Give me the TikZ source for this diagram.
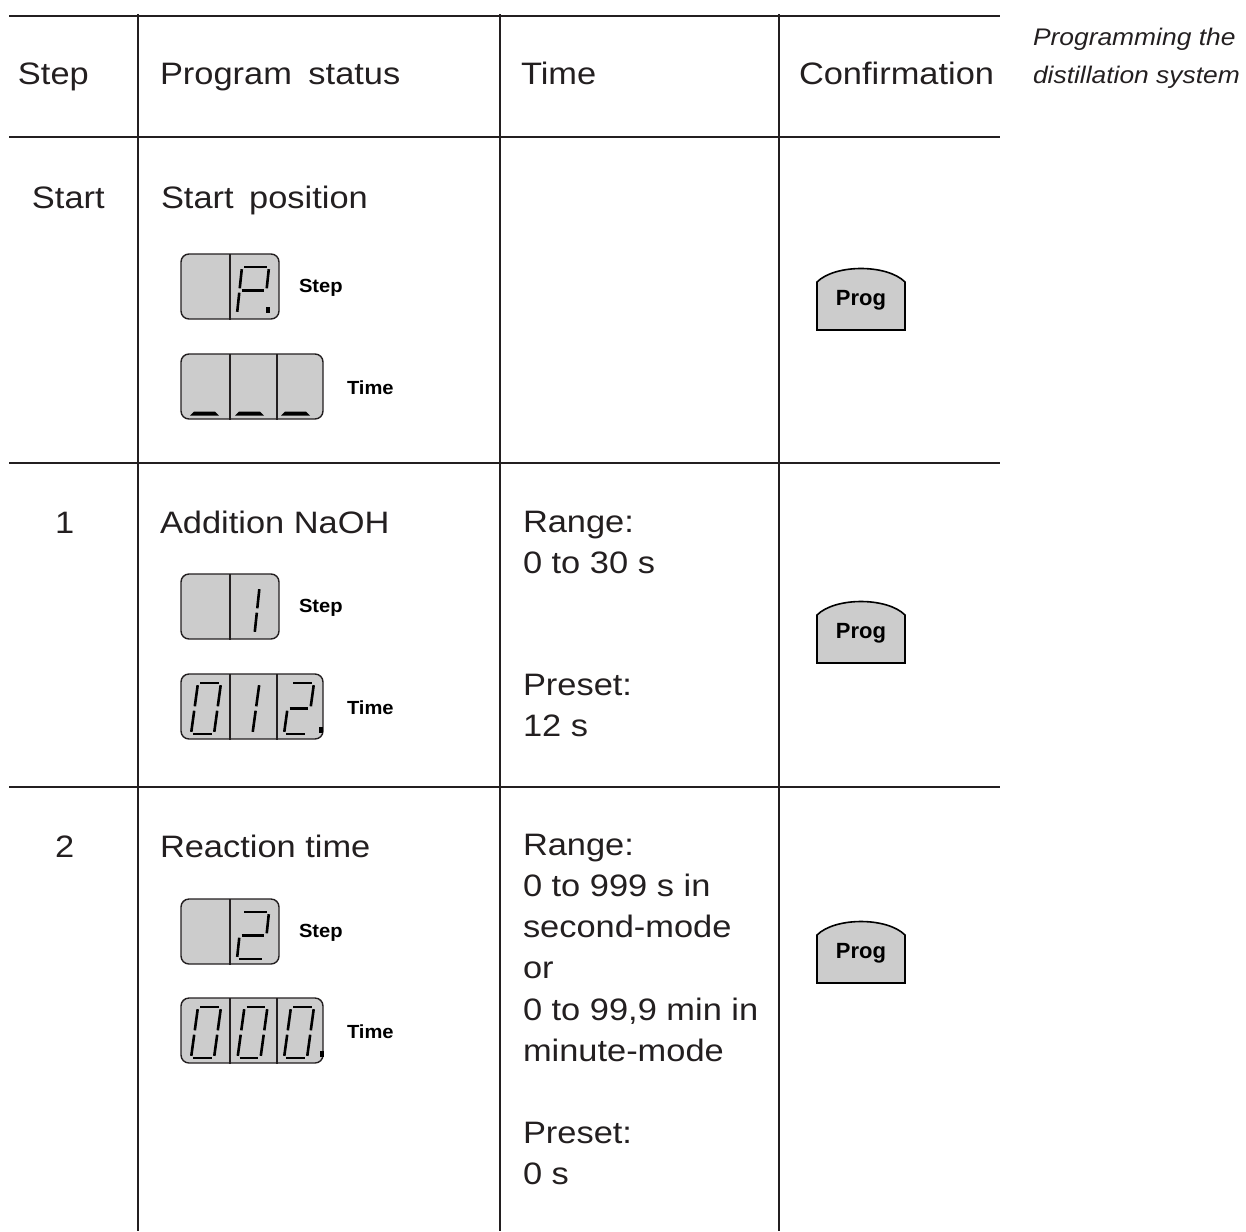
\documentclass[tikz,border=0pt]{standalone}
\usepackage{fontspec}
\setmainfont{Liberation Sans}
\newfontfamily\tabfont{Liberation Sans}[FakeStretch=1.11]
\newfontfamily\capfont{Liberation Sans}[FakeStretch=1.1]
\newfontfamily\lblfont{Liberation Sans}[FakeStretch=1.06]
\definecolor{ink}{HTML}{231F20}
\definecolor{panel}{HTML}{CCCCCC}
\newcommand\Digit[6]{%
  \begin{scope}[shift={(#1,#2)}]
    \coordinate (BL) at (0,0);
    \coordinate (BR) at (#3,0);
    \coordinate (ML) at ({#5/2},{-#4/2});
    \coordinate (MR) at ({#3+#5/2},{-#4/2});
    \coordinate (TL) at (#5,-#4);
    \coordinate (TR) at ({#3+#5},-#4);
    \coordinate (a1) at (TL); \coordinate (a2) at (TR);
    \coordinate (b1) at (TR); \coordinate (b2) at (MR);
    \coordinate (c1) at (MR); \coordinate (c2) at (BR);
    \coordinate (d1) at (BL); \coordinate (d2) at (BR);
    \coordinate (e1) at (BL); \coordinate (e2) at (ML);
    \coordinate (f1) at (ML); \coordinate (f2) at (TL);
    \coordinate (g1) at (ML); \coordinate (g2) at (MR);
    \coordinate (j1) at ({0.65*#3},0);
    \coordinate (j2) at ({0.65*#3+#5/2},{-#4/2});
    \coordinate (i1) at ({0.65*#3+#5/2},{-#4/2});
    \coordinate (i2) at ({0.65*#3+#5},-#4);
    \foreach \s in {#6}{\draw[segline] (\s1) -- (\s2);}
  \end{scope}}
\begin{document}
\begin{tikzpicture}[x=0.5pt,y=-0.5pt,
  txt/.style={anchor=base west,inner sep=0pt,outer sep=0pt,text=ink,font=\tabfont\fontsize{15.5pt}{18pt}\selectfont},
  captxt/.style={anchor=base west,inner sep=0pt,outer sep=0pt,text=ink,font=\capfont\itshape\fontsize{12pt}{14pt}\selectfont},
  lbl/.style={anchor=base west,inner sep=0pt,outer sep=0pt,text=black,font=\lblfont\bfseries\fontsize{9.5pt}{11pt}\selectfont},
  hline/.style={line width=1pt,draw=ink},
  vline/.style={line width=0.7pt,draw=ink},
  dispbox/.style={draw=ink,fill=panel,line width=0.7pt,rounded corners=4pt},
  divider/.style={draw=ink,line width=0.6pt},
  segline/.style={draw=black,line width=1.3pt,shorten <=1.1pt,shorten >=1.1pt},
  dotmark/.style={fill=black},
  bar/.style={fill=black},
  progbtn/.style={draw=black,fill=panel,line width=0.8pt},
  progtxt/.style={font=\bfseries\fontsize{11pt}{12pt}\selectfont,inner sep=0pt,text=black}
]
\useasboundingbox (0,0) rectangle (1246,1231);

% table rules
\foreach \yy in {16,137,463,787} \draw[hline] (9,\yy) -- (1000,\yy);
\foreach \xx in {138,500,779} \draw[vline] (\xx,14) -- (\xx,1231);

% header
\node[txt] (hstep) at (18,84.5) {Step};
\node[txt] (hstatus) at (160,84.5) {Program\hspace{3.5pt} status};
\node[txt] (htime) at (521,84.5) {Time};
\node[txt] (hconf) at (799,84.5) {Confirmation};
\node[captxt] (cap1) at (1033,45) {Programming the};
\node[captxt] (cap2) at (1033,83) {distillation system};

% ---------- Start row ----------
\node[txt] (s0) at (32,208) {Start};
\node[txt] (s0status) at (161,208) {Start\hspace{3pt} position};
\draw[dispbox] (181,254) rectangle (279,319);
\draw[divider] (230,254) -- (230,320);
\Digit{237}{314}{27}{47}{5}{a,b,g,f,e}
\fill[dotmark] (266,307) rectangle (270,313);
\node[lbl] (s0steplbl) at (299,292) {Step};
\draw[dispbox] (181,354) rectangle (323,419);
\draw[divider] (230,354) -- (230,420);
\draw[divider] (277,354) -- (277,420);
\foreach \bx in {190,235,281}
  \fill[bar] (\bx,415.5) -- (\bx+4,411.5) -- (\bx+25,411.5) -- (\bx+29,415.5) -- cycle;
\node[lbl] (s0timelbl) at (347,394) {Time};
\draw[progbtn] (817,330) -- (817,282) .. controls (835,264) and (887,264) .. (905,282) -- (905,330) -- cycle;
\node[progtxt] (prog0) at (861,300) {Prog};

% ---------- Row 1 ----------
\node[txt] (s1) at (55,533) {1};
\node[txt] (s1status) at (160,533) {Addition NaOH};
\node[txt] (r1a) at (523,532) {Range:};
\node[txt] (r1b) at (523,573) {0 to 30 s};
\node[txt] (r1c) at (523,695) {Preset:};
\node[txt] (r1d) at (523,736) {12 s};
\draw[dispbox] (181,574) rectangle (279,639);
\draw[divider] (230,574) -- (230,640);
\Digit{237}{634}{27}{47}{5}{i,j}
\node[lbl] (s1steplbl) at (299,612) {Step};
\draw[dispbox] (181,674) rectangle (323,739);
\draw[divider] (230,674) -- (230,740);
\draw[divider] (277,674) -- (277,740);
\Digit{191}{734}{23}{51}{7}{a,b,c,d,e,f}
\Digit{237.5}{734}{23}{51}{7}{i,j}
\Digit{284}{734}{23}{51}{7}{a,b,g,e,d}
\fill[dotmark] (319,727) rectangle (323,733);
\node[lbl] (s1timelbl) at (347,714) {Time};
\draw[progbtn] (817,663) -- (817,615) .. controls (835,597) and (887,597) .. (905,615) -- (905,663) -- cycle;
\node[progtxt] (prog1) at (861,633) {Prog};

% ---------- Row 2 ----------
\node[txt] (s2) at (55,857) {2};
\node[txt] (s2status) at (160,857) {Reaction time};
\node[txt] (r2a) at (523,855.3) {Range:};
\node[txt] (r2b) at (523,896.5) {0 to 999 s in};
\node[txt] (r2c) at (523,937.7) {second-mode};
\node[txt] (r2d) at (523,978.9) {or};
\node[txt] (r2e) at (523,1020.1) {0 to 99,9 min in};
\node[txt] (r2f) at (523,1061.3) {minute-mode};
\node[txt] (r2g) at (523,1143.7) {Preset:};
\node[txt] (r2h) at (523,1184.9) {0 s};
\draw[dispbox] (181,899) rectangle (279,964);
\draw[divider] (230,899) -- (230,965);
\Digit{237}{959}{27}{47}{5}{a,b,g,e,d}
\node[lbl] (s2steplbl) at (299,937) {Step};
\draw[dispbox] (181,998) rectangle (323,1063);
\draw[divider] (230,998) -- (230,1064);
\draw[divider] (277,998) -- (277,1064);
\Digit{191}{1058}{23}{51}{7}{a,b,c,d,e,f}
\Digit{237.5}{1058}{23}{51}{7}{a,b,c,d,e,f}
\Digit{284}{1058}{23}{51}{7}{a,b,c,d,e,f}
\fill[dotmark] (320,1051) rectangle (324,1057);
\node[lbl] (s2timelbl) at (347,1038) {Time};
\draw[progbtn] (817,983) -- (817,935) .. controls (835,917) and (887,917) .. (905,935) -- (905,983) -- cycle;
\node[progtxt] (prog2) at (861,953) {Prog};
\end{tikzpicture}
\end{document}
